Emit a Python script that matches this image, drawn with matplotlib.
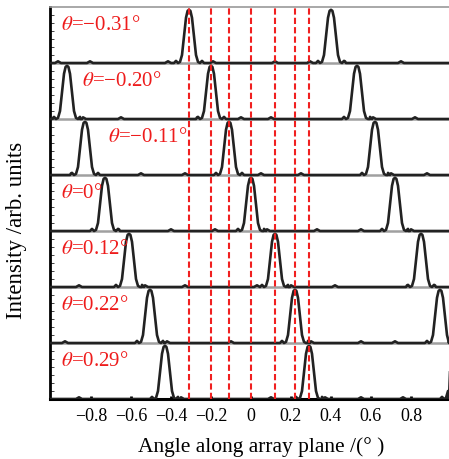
import numpy as np
import matplotlib
matplotlib.use('Agg')
import matplotlib.pyplot as plt

plt.rcParams['font.family'] = ['Liberation Serif', 'DejaVu Serif']
plt.rcParams['mathtext.fontset'] = 'stix'

# steering angle of each strip (top to bottom) and its label text
thetas = [-0.31, -0.20, -0.11, 0.0, 0.12, 0.22, 0.29]
theta_text = ['\u22120.31', '\u22120.20', '\u22120.11', '0', '0.12', '0.22', '0.29']
label_x = [-0.95, -0.845, -0.715, -0.95, -0.95, -0.95, -0.95]

# peak centres (main lobe + grating lobes)
peaks = [
    [-0.31, 0.40],
    [-0.92, -0.20, 0.53],
    [-0.83, -0.11, 0.62],
    [-0.73, 0.0, 0.72],
    [-0.61, 0.12, 0.85],
    [-0.505, 0.22, 0.945],
    [-0.43, 0.29, 1.02],
]

# small ripples on the baseline of each strip
ripples = [
    [-0.965, -0.805, -0.415, -0.19, 0.12, 0.295, 0.47, 0.75],
    [-0.84, -0.65, -0.27, -0.05, 0.10, 0.61, 0.82],
    [-0.90, -0.55, -0.33, 0.05, 0.25, 0.70, 0.88],
    [-0.66, -0.40, -0.18, 0.08, 0.33, 0.55, 0.80],
    [-0.86, -0.53, -0.33, 0.03, 0.20, 0.42, 0.78, 0.92],
    [-0.93, -0.42, -0.10, 0.30, 0.55, 0.72],
    [-0.86, -0.35, 0.10, 0.37, 0.55, 0.76],
]

# shape of one peak (offset in degrees, relative height)
prof_dx = [-0.075, -0.065, -0.055, -0.045, -0.035, -0.025, -0.015, -0.007, 0.0,
           0.007, 0.015, 0.025, 0.035, 0.045, 0.055, 0.065, 0.075]
prof_h = [0.0, 0.04, 0.0, 0.02, 0.15, 0.5, 0.85, 0.98, 1.0,
          0.98, 0.85, 0.5, 0.15, 0.02, 0.0, 0.04, 0.0]
ripple_dx = [-0.015, 0.0, 0.015]
ripple_h = [0.0, 0.03, 0.0]

xmin, xmax = -1.005, 0.99
nstrip = len(thetas)
peak_scale = 0.95

fig = plt.figure(figsize=(4.49, 4.60), dpi=100)
ax = fig.add_axes([50 / 449, 60 / 460, 399 / 449, 392 / 460])

for i in range(nstrip):
    base = nstrip - 1 - i
    xs = [xmin, xmax]
    ys = [0.0, 0.0]
    for c in peaks[i]:
        for dx, h in zip(prof_dx, prof_h):
            xs.append(c + dx)
            ys.append(h * peak_scale)
    for c in ripples[i]:
        for dx, h in zip(ripple_dx, ripple_h):
            xs.append(c + dx)
            ys.append(h)
    order = np.argsort(xs)
    xs = np.array(xs)[order]
    ys = np.array(ys)[order] + base
    ax.axhline(base, color='#a0a0a0', lw=1.8, zorder=1)
    ax.plot(xs, ys, color='#222222', lw=1.9, zorder=3)
    ax.text(label_x[i], base + 0.69, r'$\theta$=' + theta_text[i] + '\u00b0',
            color='#ee1c1c', fontsize=15, va='center', ha='left', zorder=5)

for t in thetas:
    ax.axvline(t, color='#f02020', lw=1.5, ls=(0, (3, 1.5)), zorder=4)

ax.set_xlim(xmin, xmax)
ax.set_ylim(0, nstrip)

ax.set_xticks([-0.8, -0.6, -0.4, -0.2, 0, 0.2, 0.4, 0.6, 0.8])
ax.set_xticklabels(['\u22120.8', '\u22120.6', '\u22120.4', '\u22120.2', '0',
                    '0.2', '0.4', '0.6', '0.8'])
ax.tick_params(axis='x', direction='in', length=2.5, width=2, pad=6, labelsize=13)
ax.set_yticks(np.arange(0, nstrip, 1 / 7))
ax.set_yticklabels([])
ax.tick_params(axis='y', direction='in', length=3, width=0.7, color='#444444')

ax.spines['left'].set_linewidth(2)
ax.spines['bottom'].set_linewidth(2.2)
ax.spines['top'].set_color('#9a9a9a')
ax.spines['top'].set_linewidth(1.2)
ax.spines['right'].set_visible(False)

fig.text(261 / 449, 1 - 447 / 460, 'Angle along array plane /(\u00b0 )',
         ha='center', va='center', fontsize=15.5)
fig.text(17 / 449, 1 - 230 / 460, 'Intensity /arb. units',
         ha='center', va='center', rotation=90, fontsize=16.5)

fig.savefig('out.png', dpi=100)
